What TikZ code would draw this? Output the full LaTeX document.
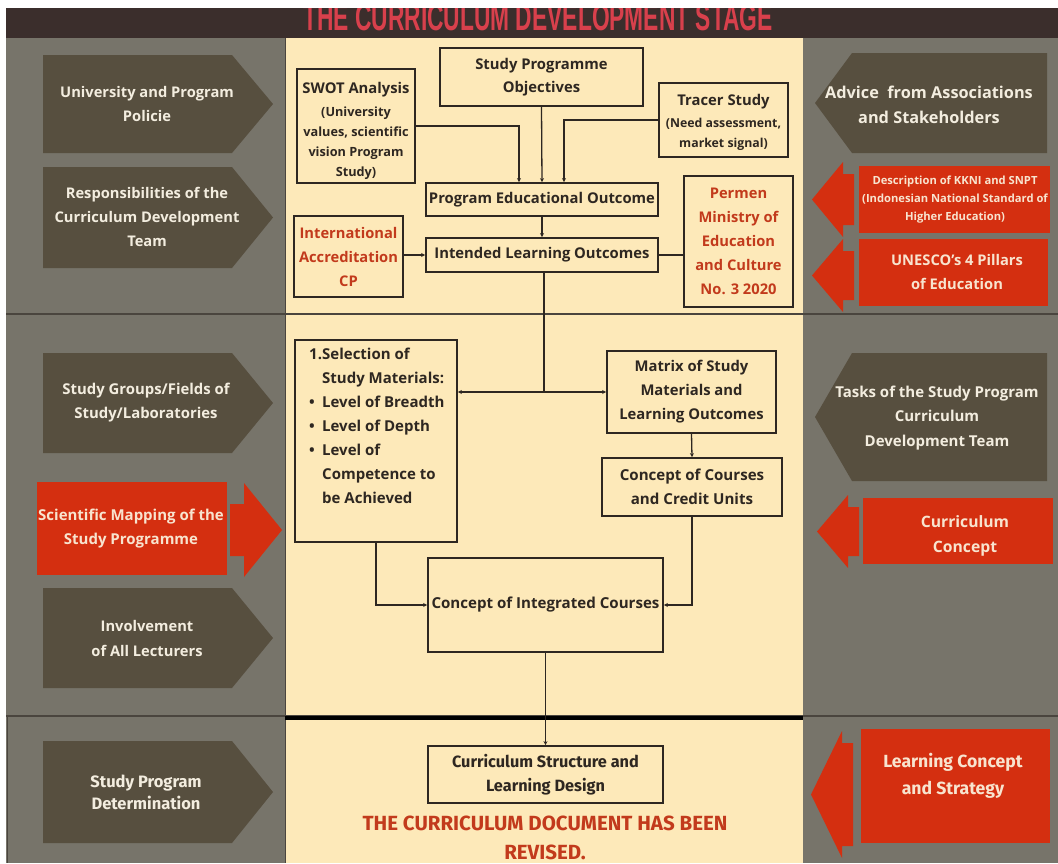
\documentclass[tikz,border=0pt]{standalone}
\usepackage{fontspec}
\setmainfont{Open Sans}
\newfontfamily\titlefont[FakeStretch=0.6]{Liberation Sans}
\newfontfamily\firafont{Fira Sans}
\usetikzlibrary{arrows.meta}
\definecolor{band}{HTML}{3B2E2C}
\definecolor{bggray}{HTML}{77746A}
\definecolor{olive}{HTML}{574F3F}
\definecolor{cream}{HTML}{FDE9B9}
\definecolor{redbox}{HTML}{D42F10}
\definecolor{redtxt}{HTML}{C23A1C}
\definecolor{titlered}{HTML}{D8404C}
\definecolor{ink}{HTML}{2E2721}
\definecolor{lighttxt}{HTML}{F3EDDF}
\definecolor{redlight}{HTML}{F8E4CF}
\definecolor{divgray}{HTML}{4A453E}
\tikzset{
  box/.style={draw=ink, line width=1.8pt, inner sep=0pt, align=center, text=ink,
    font=\bfseries\fontsize{14.8}{23.5}\selectfont},
  redbx/.style={box, text=redtxt, font=\bfseries\fontsize{14.7}{24}\selectfont},
  conn/.style={draw=ink, line width=1.3pt},
  arr/.style={conn, -{Stealth[length=4pt,width=4pt]}},
  lbl/.style={align=center, text=lighttxt, inner sep=0pt,
    font=\bfseries\fontsize{14.7}{24}\selectfont},
  redlbl/.style={lbl, text=redlight},
  botlbl/.style={align=center, inner sep=0pt, font=\firafont\bfseries\fontsize{16.5}{24}\selectfont}
}
\newcommand{\LArr}[2]{\fill[olive] (43,#1) -- (232,#1) -- (273,{(#1+#2)/2}) -- (232,#2) -- (43,#2) -- cycle;}
\newcommand{\RArr}[2]{\fill[olive] (1047,#1) -- (852,#1) -- (815,{(#1+#2)/2}) -- (852,#2) -- (1047,#2) -- cycle;}
\newcommand{\RedL}[3]{\fill[redbox] (#1,{(#2+#3)/2}) -- ({#1+31},#2) -- ({#1+31},{#2+12}) -- ({#1+42},{#2+12}) -- ({#1+42},{#3-12}) -- ({#1+31},{#3-12}) -- ({#1+31},#3) -- cycle;}
\begin{document}
\begin{tikzpicture}[x=1pt,y=-1pt]
\useasboundingbox (0,0) rectangle (1058,863);
\fill[white] (0,0) rectangle (1058,863);
% backgrounds
\fill[band] (6,8) rectangle (1058,38);
\fill[bggray] (6,38) rectangle (1058,863);
\fill[cream] (285,38) rectangle (803,863);
\draw[divgray, line width=1pt] (285,38) -- (285,863);
\draw[divgray, line width=1pt] (7,715) -- (7,863);
% title
\begin{scope}
\clip (6,8) rectangle (1058,38);
\node[anchor=base, inner sep=0pt, text=titlered, font=\titlefont\bfseries\fontsize{38}{38}\selectfont] (title) at (538,30) {THE CURRICULUM DEVELOPMENT STAGE};
\end{scope}
% dividers
\draw[divgray, line width=1.8pt] (6,314) -- (1058,314);
\draw[divgray, line width=2.5pt] (6,716) -- (1058,716);
\draw[black, line width=3.5pt] (285,718) -- (803,718);

% left arrows
\LArr{55}{153}
\node[lbl] (univ) at (147,104) {University and Program\\Policie};
\LArr{167}{268}
\node[lbl] (resp) at (147,217) {Responsibilities of the\\Curriculum Development\\Team};
\LArr{353}{453}
\node[lbl, font=\bfseries\fontsize{14.9}{24}\selectfont] (groups) at (146,403) {Study Groups/Fields of\\Study/Laboratories};
\fill[redbox] (37,482) rectangle (227,575);
\fill[redbox] (230,504) -- (244,504) -- (244,483) -- (282,530) -- (244,577) -- (244,556) -- (230,556) -- cycle;
\node[redlbl, font=\bfseries\fontsize{15}{24}\selectfont] (mapping) at (131,529) {Scientific Mapping of the\\Study Programme};
\LArr{588}{688}
\node[lbl, font=\bfseries\fontsize{14.7}{25}\selectfont] (involve) at (147,638) {Involvement\\of All Lecturers};
\LArr{741}{843}
\node[botlbl, text=lighttxt, font=\firafont\bfseries\fontsize{16.5}{22}\selectfont] (determ) at (146,792) {Study Program\\Determination};

% right arrows
\RArr{53}{153}
\node[lbl, font=\bfseries\fontsize{16.3}{25}\selectfont] (advice) at (929,105) {Advice\ \ from Associations\\and Stakeholders};
\RedL{812}{162}{237}
\fill[redbox] (859,166) rectangle (1050,233);
\node[redlbl, font=\bfseries\fontsize{11.2}{18}\selectfont] (kkni) at (955,200) {Description of KKNI and SNPT\\(Indonesian National Standard of\\Higher Education)};
\RedL{812}{239}{312}
\fill[redbox] (859,239) rectangle (1048,306);
\node[redlbl] (unesco) at (957,272) {UNESCO's 4 Pillars\\of Education};
\RArr{353}{481}
\node[lbl, font=\bfseries\fontsize{15}{24.5}\selectfont] (tasks) at (937,418) {Tasks of the Study Program\\Curriculum\\Development Team};
\RedL{817}{495}{568}
\fill[redbox] (863,498) rectangle (1053,564);
\node[redlbl, font=\bfseries\fontsize{15.7}{25}\selectfont] (cconcept) at (965,536) {Curriculum\\Concept};
\RedL{811}{731}{858}
\fill[redbox] (861,729) rectangle (1050,843);
\node[botlbl, text=redlight, font=\firafont\bfseries\fontsize{17.6}{27}\selectfont] (lcs) at (953,776) {Learning Concept\\and Strategy};

% center top
\node[box, minimum width=203pt, minimum height=58pt] (obj) at (541.5,77) {Study Programme\\Objectives};
\node[box, minimum width=118pt, minimum height=114pt] (swot) at (356,126) {\rule{0pt}{24pt}SWOT Analysis\\[5pt]{\fontsize{12.7}{20}\selectfont\begin{tabular}{@{}c@{}}(University\\values, scientific\\vision Program\\Study)\end{tabular}}};
\node[box, minimum width=129pt, minimum height=74pt] (tracer) at (723.5,120) {\rule{0pt}{19pt}Tracer Study\\[4pt]{\fontsize{12.3}{20}\selectfont\begin{tabular}{@{}c@{}}(Need assessment,\\market signal)\end{tabular}}};
\node[box, minimum width=232pt, minimum height=33pt] (peo) at (542,199.5) {Program Educational Outcome};
\node[box, minimum width=232pt, minimum height=34pt] (ilo) at (542,255) {Intended Learning Outcomes};
\node[redbx, minimum width=109pt, minimum height=81pt] (intl) at (348.5,256.5) {International\\Accreditation\\CP};
\node[redbx, minimum width=109pt, minimum height=131pt] (permen) at (738.5,241.5) {Permen\\Ministry of\\Education\\and Culture\\No. 3 2020};

% center middle
\node[box, minimum width=162pt, minimum height=202pt] (sel) at (376,441) {};
\node[anchor=north west, inner sep=0pt, align=left, text=ink, font=\bfseries\fontsize{15}{24}\selectfont] (seltext) at (309,348)
{\makebox[13pt][l]{1.}Selection of\\\makebox[13pt][l]{}Study Materials:\\\makebox[13pt][l]{•}Level of Breadth\\\makebox[13pt][l]{•}Level of Depth\\\makebox[13pt][l]{•}Level of\\\makebox[13pt][l]{}Competence to\\\makebox[13pt][l]{}be Achieved};
\node[box, minimum width=169pt, minimum height=82pt, font=\bfseries\fontsize{14.8}{24}\selectfont] (matrix) at (691.5,392) {Matrix of Study\\Materials and\\Learning Outcomes};
\node[box, minimum width=180pt, minimum height=58pt, font=\bfseries\fontsize{15.1}{24}\selectfont] (courses) at (692,487) {Concept of Courses\\and Credit Units};
\node[box, minimum width=235pt, minimum height=94pt, font=\bfseries\fontsize{15.1}{24}\selectfont] (integ) at (545.5,605) {Concept of Integrated Courses};

% bottom
\node[box, minimum width=235pt, minimum height=57pt, font=\firafont\bfseries\fontsize{16.3}{24}\selectfont] (csld) at (545.5,774.5) {Curriculum Structure and\\Learning Design};
\node[botlbl, text=redtxt, font=\firafont\bfseries\fontsize{20.5}{29}\selectfont] (revised) at (545,838) {THE CURRICULUM DOCUMENT HAS BEEN\\REVISED.};

% connectors
\coordinate (split) at (544,392);
\draw[arr] (swot.east) -| ([xshift=-23pt]peo.north);
\draw[arr] (obj.south) -- (peo.north);
\draw[arr] (tracer.west) -| ([xshift=22pt]peo.north);
\draw[arr] (peo.south) -- (ilo.north);
\draw[arr] (intl.east |- ilo.west) -- (ilo.west);
\draw[conn] (permen.west |- ilo.east) -- (ilo.east);
\draw[conn] (ilo.south -| split) -- (split);
\draw[conn, {Stealth[length=4pt,width=4pt]}-{Stealth[length=4pt,width=4pt]}] (sel.east |- split) -- (matrix.west |- split);
\draw[arr] (matrix.south) -- (courses.north);
\draw[arr] (sel.south) |- (integ.west);
\draw[arr] (courses.south) |- (integ.east);
\draw[arr] (integ.south) -- (csld.north);
\end{tikzpicture}
\end{document}
